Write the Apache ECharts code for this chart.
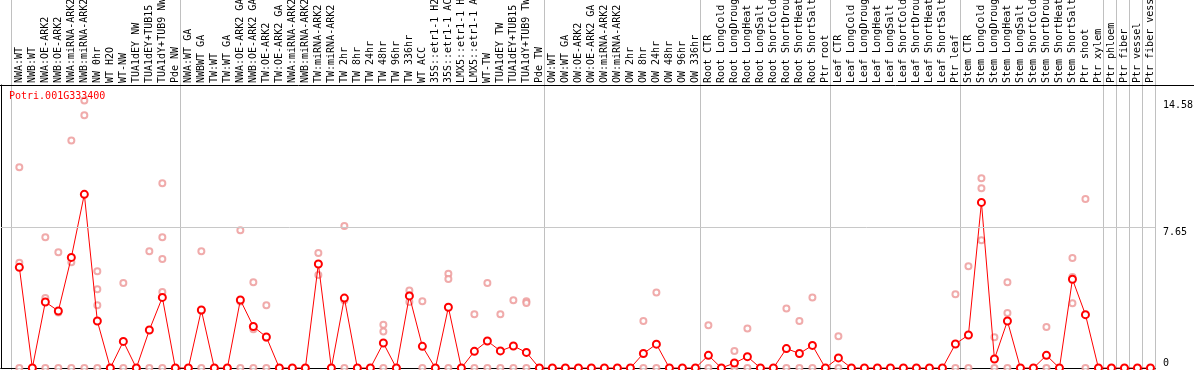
<!DOCTYPE html>
<html>
<head>
<meta charset="utf-8">
<script src="https://cdn.jsdelivr.net/npm/echarts@6/dist/echarts.min.js"></script>
<style>
html,body{margin:0;padding:0;background:#fff;}
#chart{width:1194px;height:370px;}
</style>
</head>
<body>
<div id="chart"></div>
<script>
const geneName = 'Potri.001G333400';

const categories = [
  'NWA:WT','NWB:WT','NWA:OE-ARK2','NWB:OE-ARK2','NWA:miRNA-ARK2','NWB:miRNA-ARK2','NW 0hr','WT H2O','WT-NW','TUA1dEY NW','TUA1dEY+TUB15 NW','TUA1dY+TUB9 NW','Pde NW',
  'NWA:WT GA','NWBWT GA','TW:WT','TW:WT GA','NWA:OE-ARK2 GA','NWB:OE-ARK2 GA','TW:OE-ARK2','TW:OE-ARK2 GA','NWA:miRNA-ARK2 GA','NWB:miRNA-ARK2 GA','TW:miRNA-ARK2','TW:miRNA-ARK2 GA',
  'TW 2hr','TW 8hr','TW 24hr','TW 48hr','TW 96hr','TW 336hr','WT ACC','35S::etr1-1 H2O','35S::etr1-1 ACC','LMX5::etr1-1 H2O','LMX5::etr1-1 ACC','WT-TW','TUA1dEY TW','TUA1dEY+TUB15 TW','TUA1dY+TUB9 TW','Pde TW',
  'OW:WT','OW:WT GA','OW:OE-ARK2','OW:OE-ARK2 GA','OW:miRNA-ARK2','OW:miRNA-ARK2 GA','OW 2hr','OW 8hr','OW 24hr','OW 48hr','OW 96hr','OW 336hr',
  'Root CTR','Root LongCold','Root LongDrought','Root LongHeat','Root LongSalt','Root ShortCold','Root ShortDrought','Root ShortHeat','Root ShortSalt','Ptr root',
  'Leaf CTR','Leaf LongCold','Leaf LongDrought','Leaf LongHeat','Leaf LongSalt','Leaf ShortCold','Leaf ShortDrought','Leaf ShortHeat','Leaf ShortSalt','Ptr leaf',
  'Stem CTR','Stem LongCold','Stem LongDrought','Stem LongHeat','Stem LongSalt','Stem ShortCold','Stem ShortDrought','Stem ShortHeat','Stem ShortSalt','Ptr shoot','Ptr xylem',
  'Ptr phloem','Ptr fiber','Ptr vessel','Ptr fiber vessel'
];

const meanValues = [
  5.49,0,3.60,3.11,6.03,9.47,2.56,0,1.45,0,2.07,3.85,0,
  0,3.16,0,0,3.71,2.26,1.69,0,0,0,5.67,0,
  3.81,0,0,1.36,0,3.93,1.18,0,3.31,0,0.91,1.47,0.93,1.20,0.85,0,
  0,0,0,0,0,0,0,0.79,1.30,0,0,0,
  0.69,0,0.27,0.62,0,0,1.06,0.79,1.23,0,
  0.55,0,0,0,0,0,0,0,0,1.31,
  1.80,9.03,0.49,2.56,0,0,0.69,0,4.84,2.91,0,
  0,0,0,0
];

const replicateValues = [
  [10.94,5.74,0],[0],[7.13,3.82,0],[6.31,3.02,0],[12.41,5.76,0],[14.58,13.78,0],[5.27,4.29,3.42,0],[0],[4.63,0],[0],[6.36,0],[10.07,7.13,5.94,4.14,0],[0],
  [0],[6.36,3.12,0],[0],[0],[7.51,3.62,0],[4.67,2.11,0],[3.42,1.65,0],[0],[0],[0],[6.27,5.07,5.67],[0],
  [7.74,3.69,0],[0],[0],[2.36,1.99,0],[0],[4.22,3.60,3.97],[3.64,0],[0],[5.14,4.85,0],[0],[2.93,0],[4.63,0],[2.93,0],[3.69,0],[3.64,3.54,0],[0],
  [0],[0],[0],[0],[0],[0],[0],[2.56,0],[4.12,0],[0],[0],[0],
  [2.33,0],[0],[0.93,0],[2.16,0],[0],[0],[3.24,0],[2.56,0],[3.85,0],[0],
  [1.73,0],[0],[0],[0],[0],[0],[0],[0],[0],[4.02,0],
  [5.55,0],[10.34,9.80,6.96],[1.67,0],[4.67,3.00,0],[0],[0],[2.24,0],[0],[6.00,4.96,3.53],[9.21,0],[0],
  [0],[0],[0],[0]
];

// index of first category of each group (last entry = end)
const groupStarts = [0,13,41,53,63,73,84,85,86,87,88];

const yTickLabels = [7.65, 14.58];
const yZeroLabel = [0];
const yMax = 15.43;
const gridValue = 7.65;

const FONT = 'DejaVu Sans Mono';
const chart = echarts.init(document.getElementById('chart'), null, {renderer: 'canvas'});

const xMin = -1.41, xMax = 87.35;
const mainData = meanValues.map((v, i) => [i, v]);
const repData = [];
replicateValues.forEach((arr, i) => arr.forEach(v => repData.push([i, v])));

const baseY = {type: 'value', min: 0, max: yMax, axisTick: {show: false}, splitLine: {show: false}, axisLine: {show: false}};

chart.setOption({
  animation: false,
  backgroundColor: '#fff',
  title: {
    text: geneName, left: 9, top: 91, padding: 0,
    textStyle: {color: '#ff0000', fontFamily: FONT, fontSize: 10, fontWeight: 'normal'}
  },
  grid: {left: 1, right: 39, top: 85, bottom: 2, containLabel: false, outerBoundsMode: 'none'},
  xAxis: [
    {
      type: 'value', position: 'top', min: xMin, max: xMax,
      axisLine: {show: true, lineStyle: {color: '#000', width: 1}},
      axisTick: {show: false}, splitLine: {show: false},
      axisLabel: {
        customValues: categories.map((_, i) => i),
        formatter: v => categories[Math.round(v)],
        rotate: 90, margin: 2, hideOverlap: false,
        fontFamily: FONT, fontSize: 10, color: '#000'
      }
    },
    {
      type: 'value', position: 'bottom', min: xMin, max: xMax,
      axisLine: {show: true, lineStyle: {color: '#000', width: 1}},
      axisTick: {show: false}, splitLine: {show: false}, axisLabel: {show: false}
    }
  ],
  yAxis: [
    Object.assign({}, baseY, {
      position: 'right',
      axisLabel: {customValues: yTickLabels, formatter: v => String(v), verticalAlign: 'top', align: 'left', margin: 8,
        fontFamily: FONT, fontSize: 10, color: '#000'}
    }),
    Object.assign({}, baseY, {
      position: 'right',
      axisLabel: {customValues: yZeroLabel, formatter: v => String(v), verticalAlign: 'bottom', align: 'left', margin: 8,
        fontFamily: FONT, fontSize: 10, color: '#000'}
    }),
    Object.assign({}, baseY, {
      position: 'left',
      axisLine: {show: true, lineStyle: {color: '#000', width: 1}},
      axisLabel: {show: false}
    })
  ],
  series: [
    {
      type: 'scatter', name: 'replicates', data: repData, xAxisIndex: 0, yAxisIndex: 0,
      symbol: 'emptyCircle', symbolSize: 6, silent: true, z: 2,
      itemStyle: {color: '#ec9696', borderColor: '#ec9696', borderWidth: 1},
      markLine: {
        silent: true, symbol: 'none', label: {show: false},
        lineStyle: {color: '#c8c8c8', type: 'solid', width: 1},
        data: [{yAxis: gridValue}]
      }
    },
    {
      type: 'line', name: geneName, data: mainData, xAxisIndex: 0, yAxisIndex: 0,
      symbol: 'emptyCircle', symbolSize: 7, silent: true, z: 3,
      lineStyle: {color: '#ff0000', width: 1},
      itemStyle: {color: '#ff0000', borderColor: '#ff0000', borderWidth: 1.3}
    }
  ]
});

// group separators and header line, positioned through the axis scales
const topY = chart.convertToPixel({yAxisIndex: 0}, yMax);
const graphics = groupStarts.map(k => {
  const x = Math.round(chart.convertToPixel({xAxisIndex: 0}, k - 0.65)) + 0.5;
  return {type: 'line', z: 0, silent: true, shape: {x1: x, y1: 0, x2: x, y2: 370}, style: {stroke: '#c0c0c0', lineWidth: 1}};
});
const ty = Math.round(topY) + 0.5;
graphics.push({type: 'line', z: 10, silent: true, shape: {x1: 0, y1: ty, x2: 1194, y2: ty}, style: {stroke: '#000', lineWidth: 1}});
chart.setOption({graphic: graphics});
</script>
</body>
</html>
